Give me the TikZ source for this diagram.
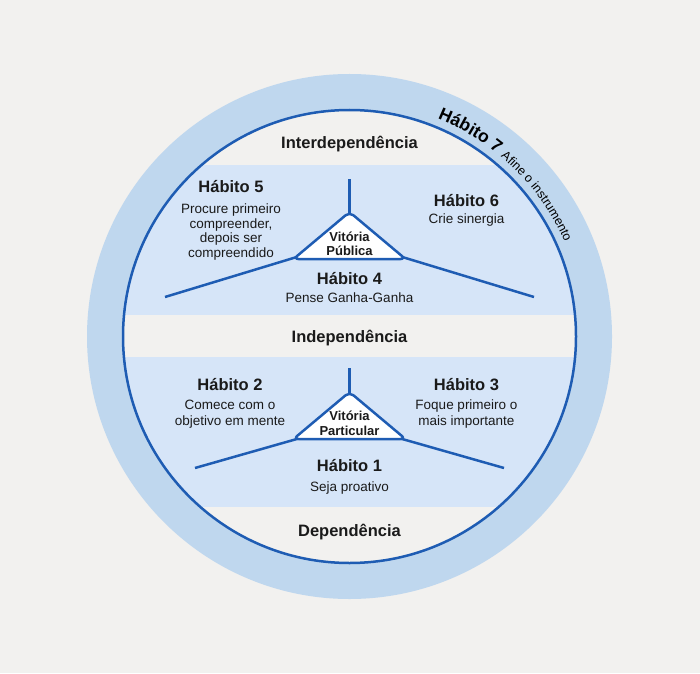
\documentclass[tikz,border=0pt]{standalone}
\usepackage{fontspec}
\setmainfont{Liberation Sans}
\usetikzlibrary{decorations.text,calc}
\definecolor{bg}{HTML}{F2F1EF}
\definecolor{ring}{HTML}{BFD7EE}
\definecolor{band}{HTML}{D6E5F8}
\definecolor{bluel}{HTML}{1E5CB3}
\definecolor{ink}{HTML}{1A1A1A}
\newcommand\hsevenfont{\bfseries\fontsize{17.5}{17.5}\selectfont}
\newcommand\hsevensub{\mdseries\fontsize{12.5}{12.5}\selectfont}
\begin{document}
\begin{tikzpicture}[x=1pt,y=1pt,
  titlenode/.style={font=\bfseries\fontsize{16.5}{19}\selectfont, text=ink, inner sep=0pt},
  bodynode/.style={font=\fontsize{13.5}{14.8}\selectfont, text=ink, align=center, inner sep=0pt},
  levelnode/.style={font=\bfseries\fontsize{16.5}{19}\selectfont, text=ink, inner sep=0pt},
  winnode/.style={font=\bfseries\fontsize{13}{14.5}\selectfont, text=ink, align=center, inner sep=0pt},
  spoke/.style={draw=bluel, line width=2.5pt},
  tri/.style={draw=bluel, fill=white, line width=2.5pt, rounded corners=5pt, line join=round}]
\useasboundingbox (0,0) rectangle (700,673);
\fill[bg] (0,0) rectangle (700,673);
\coordinate (C) at (349.5,336.5);
\fill[ring] (C) circle[radius=262.5];
\fill[bg] (C) circle[radius=226.5];
\begin{scope}
  \clip (C) circle[radius=226.5];
  \fill[band] (0,358) rectangle (700,508);
  \fill[band] (0,166) rectangle (700,316);
\end{scope}
\draw[bluel, line width=2.5pt] (C) circle[radius=226.5];

% upper structure
\coordinate (uc) at (349.5,432);
\coordinate (ut) at (349.5,494);
\coordinate (ul) at (165,376);
\coordinate (ur) at (534,376);
\draw[spoke] (uc) -- (ut);
\draw[spoke] (uc) -- (ul);
\draw[spoke] (uc) -- (ur);
\coordinate (ua) at (349.5,461);
\coordinate (ubl) at (293.5,414);
\coordinate (ubr) at (405.5,414);
\draw[tri] (ua) -- (ubl) -- (ubr) -- cycle;

% lower structure
\coordinate (lc) at (349.5,249);
\coordinate (lt) at (349.5,305);
\coordinate (ll) at (195,205);
\coordinate (lr) at (504,205);
\draw[spoke] (lc) -- (lt);
\draw[spoke] (lc) -- (ll);
\draw[spoke] (lc) -- (lr);
\coordinate (la) at (349.5,281);
\coordinate (lbl) at (293.5,234);
\coordinate (lbr) at (405.5,234);
\draw[tri] (la) -- (lbl) -- (lbr) -- cycle;

% levels
\node[levelnode] (inter) at (349.5,529) {Interdependência};
\node[levelnode] (indep) at (349.5,335) {Independência};
\node[levelnode] (dep) at (349.5,140.5) {Dependência};

% habits
\node[titlenode] (h5) at (231,486) {Hábito 5};
\node[bodynode] (h5b) at (231,441) {Procure primeiro\\compreender,\\depois ser\\compreendido};
\node[titlenode] (h6) at (466.5,472) {Hábito 6};
\node[bodynode] (h6b) at (466.5,453) {Crie sinergia};
\node[titlenode] (h4) at (349.5,394) {Hábito 4};
\node[bodynode] (h4b) at (349.5,375) {Pense Ganha-Ganha};
\node[winnode] (vp) at (349.5,429) {Vitória\\Pública};

\node[titlenode] (h2) at (230,288) {Hábito 2};
\node[bodynode, font=\fontsize{13.5}{16.5}\selectfont] (h2b) at (230,259) {Comece com o\\objetivo em mente};
\node[titlenode] (h3) at (466.5,288) {Hábito 3};
\node[bodynode, font=\fontsize{13.5}{16.5}\selectfont] (h3b) at (466.5,259) {Foque primeiro o\\mais importante};
\node[titlenode] (h1) at (349.5,207) {Hábito 1};
\node[bodynode] (h1b) at (349.5,185) {Seja proativo};
\node[winnode] (vpart) at (349.5,249.5) {Vitória\\Particular};

% habit 7 along the ring
\path[decorate, decoration={text along path, text align=left,
  text={|\hsevenfont|Hábito 7 |\hsevensub|Afine o instrumento}}]
  ($(C)+(68:235)$) arc[start angle=68, end angle=5, radius=235];
\end{tikzpicture}
\end{document}
